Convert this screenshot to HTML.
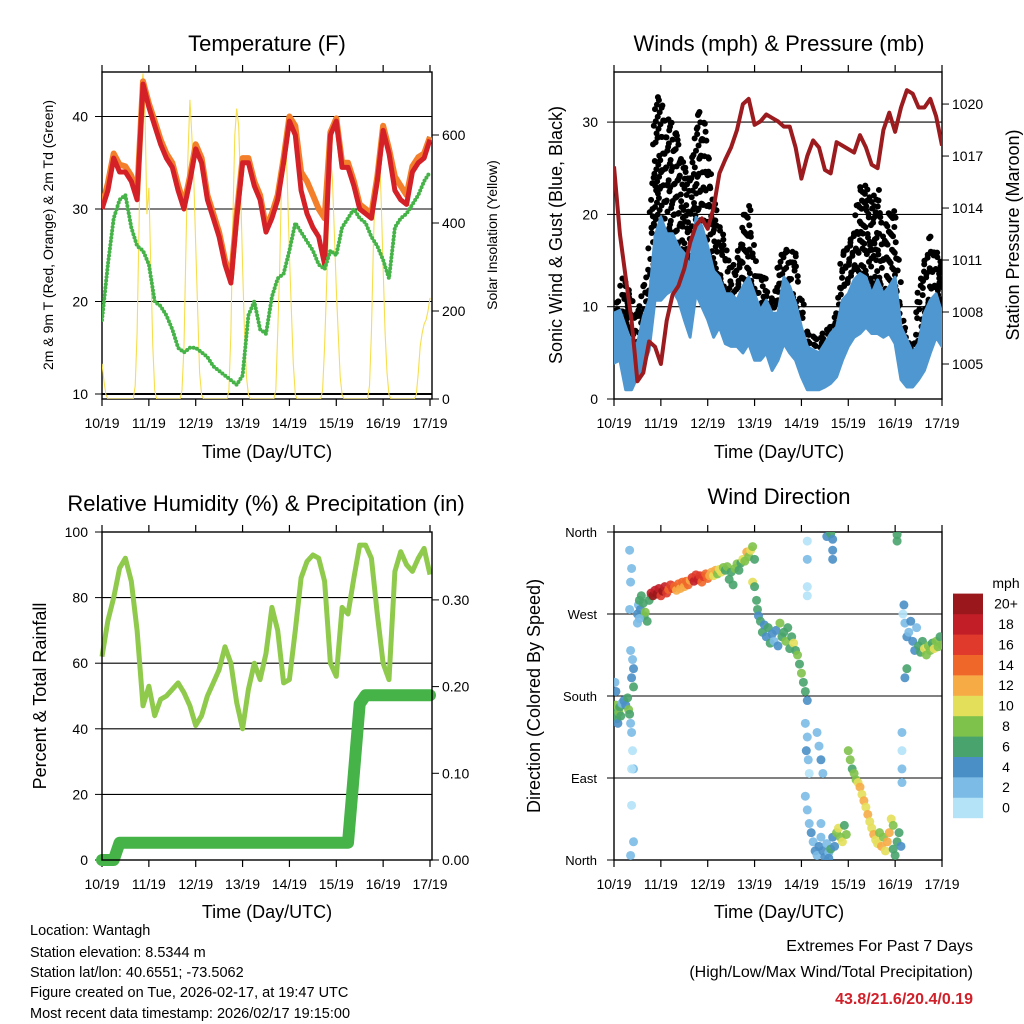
<!DOCTYPE html>
<html><head><meta charset="utf-8"><title>Weather station</title>
<style>
html,body{margin:0;padding:0;background:#fff;}
svg{display:block;font-family:"Liberation Sans",Arial,sans-serif;}
</style></head>
<body>
<svg id="chart" width="1024" height="1024" viewBox="0 0 1024 1024" xmlns="http://www.w3.org/2000/svg">
<defs>
<clipPath id="c1"><rect x="102" y="72" width="330" height="327"/></clipPath>
<clipPath id="c2"><rect x="614" y="72" width="328" height="327"/></clipPath>
<clipPath id="c3"><rect x="102" y="532" width="330" height="328"/></clipPath>
<clipPath id="c4"><rect x="614" y="532" width="328" height="328"/></clipPath>
</defs>
<g font-size="22" text-anchor="middle" fill="#000">
<text x="267" y="51">Temperature (F)</text>
<text x="779" y="51">Winds (mph) &amp; Pressure (mb)</text>
<text x="266" y="511">Relative Humidity (%) &amp; Precipitation (in)</text>
<text x="779" y="504">Wind Direction</text>
</g>
<g font-size="18" text-anchor="middle">
<text x="267" y="458">Time (Day/UTC)</text>
<text x="779" y="458">Time (Day/UTC)</text>
<text x="267" y="918">Time (Day/UTC)</text>
<text x="779" y="918">Time (Day/UTC)</text>
<text transform="translate(562,235) rotate(-90)">Sonic Wind &amp; Gust (Blue, Black)</text>
<text transform="translate(1019,235) rotate(-90)">Station Pressure (Maroon)</text>
<text transform="translate(46,696) rotate(-90)">Percent &amp; Total Rainfall</text>
<text transform="translate(540,696) rotate(-90)">Direction (Colored By Speed)</text>
</g>
<g font-size="14" text-anchor="middle">
<text transform="translate(53,235) rotate(-90)">2m &amp; 9m T (Red, Orange) &amp; 2m Td (Green)</text>
<text transform="translate(497,235) rotate(-90)">Solar Insolation (Yellow)</text>
</g>
<g font-size="14.5">
<text x="30" y="935">Location: Wantagh</text>
<text x="30" y="957">Station elevation: 8.5344 m</text>
<text x="30" y="977">Station lat/lon: 40.6551; -73.5062</text>
<text x="30" y="997">Figure created on Tue, 2026-02-17, at 19:47 UTC</text>
<text x="30" y="1018">Most recent data timestamp: 2026/02/17 19:15:00</text>
</g>
<g font-size="16" text-anchor="end">
<text x="973" y="951">Extremes For Past 7 Days</text>
<text x="973" y="977">(High/Low/Max Wind/Total Precipitation)</text>
<text x="973" y="1004" fill="#d0202a" font-weight="bold">43.8/21.6/20.4/0.19</text>
</g>
<g id="layer"></g>
</svg>
<script>
// ---- data (3-hourly from 10/19 19 UTC, hours 0..168) ----
const hours3 = [0,3,6,9,12,15,18,21,24,27,30,33,36,39,42,45,48,51,54,57,60,63,66,69,72,75,78,81,84,87,90,93,96,99,102,105,108,111,114,117,120,123,126,129,132,135,138,141,144,147,150,153,156,159,162,165,168];
const temp2m = [30,32,35.5,34,34,33,31,43.5,41,39,37,35.5,34.5,32,30,33,36.5,35,31,29,27,24,22,29,35,35,32.5,31,27.5,29,31,35,39.5,38,32,29.5,28,27,24,38,39.5,34.5,34.5,32.5,30,29.5,29,33,38.5,36,32,31,30.5,34,35,35.5,37.5];
const temp9m = [30.3,32.8,36,34.8,34.6,33.6,31.6,43.8,41.4,39.5,37.5,36,35,32.6,30.5,33.5,37,35.5,31.5,29.5,27.5,24.5,22.5,29.5,35.5,35.5,33,31.5,28,29.5,31.5,35.5,40,39,34,33,31.5,30,29,38.3,39.8,35,35,33,30.5,30,29.5,33.5,39,36.5,33.5,32.5,31.5,34.6,35.6,36,37.8];
const dewpt = [18,24,29,31,31.5,28,26,25.5,24,20,19.5,18.5,17,15,14.5,15,15,14.5,14,13,12.5,12,11.5,11,12,18.5,20,17,16.5,20.5,22.5,23,25.5,28.5,27.5,26.5,25.5,24,23.5,25.5,25,28,29,30,29,28.5,27,26,24.5,22.5,28,29,29.5,30.5,31.5,33,34];
const solar = [80,40,10,0, 0,0,0,0,0,0,0,0,0,0,0,0,0, 30,150,400,700,740,650,420,480,300,120,20, 0,0,0,0,0,0,0,0,0,0,0,0,0, 20,120,350,550,680,600,500,350,200,60,10, 0,0,0,0,0,0,0,0,0,0,0,0,0, 20,150,400,600,660,620,480,300,150,50,10, 0,0,0,0,0,0,0,0,0,0,0,0,0, 20,150,300,500,550,620,480,330,200,80,10, 0,0,0,0,0,0,0,0,0,0,0,0,0, 20,120,250,400,550,500,380,250,150,50,10, 0,0,0,0,0,0,0,0,0,0,0,0,0, 30,150,350,500,550,580,450,300,150,60,10, 0,0,0,0,0,0,0,0,0,0,0,0,0, 10,60,120,150,170,180,200,230];
const windLo = [3.9,4.2,1.0,1.0,2.4,3.5,5.3,10.7,10.7,11.4,11.8,10.7,8.6,6.7,11.4,10,8.6,6.7,7.8,6,5.7,5.7,5,6,4.2,4.2,5,3.1,4.2,6,5,4.2,2.4,1,1,1,1.3,1.7,2.4,4.2,5.7,6.7,7.1,7.8,7.1,7.1,6.7,7.1,6,2.1,1.3,1.3,2.1,3.1,5,6.7,5.7];
const windHi = [9.3,9.6,7.8,6.0,6.0,8.9,10.7,17.6,19.7,17.9,17.9,16.5,15.8,14.3,19.7,18.7,16.5,13.9,13.2,11.4,11.4,10.7,12.2,13.2,11.4,9.6,10.7,9.3,9.3,13.2,12.2,10.4,7.8,5.7,5.3,5,6,7.1,7.8,10.7,11.4,12.9,13.6,13.2,11.4,12.9,11.4,12.2,13.2,7.8,6.4,5,6,9.3,10.7,11.4,9.3];
const gustHi = [9.5,11.8,14.6,10.7,10.4,12.6,15.2,32,33,31,30,28,26,23.5,30.6,31.3,27.6,21.9,19,16.4,14.2,15.3,20.3,21,15.6,13.4,13,10.5,14.2,17,16.4,15.6,11,7.2,7.1,6.5,7.5,7.6,9.8,16.4,17,19,22.7,23.8,21.3,23,17.7,20.6,20.3,10.5,6.5,5.4,11.8,14.8,17.7,17,14.2];
const pressure = [1016.4,1012.5,1010,1007.5,1004,1004.5,1006.3,1006,1005,1007.5,1009,1009.5,1010.5,1012,1013,1013.4,1012.8,1014,1016,1016.8,1017.5,1018.5,1020,1020.3,1018.8,1019,1019.4,1019.2,1019,1018.7,1018.7,1017.5,1015.7,1017,1017.9,1017.5,1016.2,1016,1017.8,1017.6,1017.4,1017.2,1018.2,1017.5,1016.5,1016.3,1018.5,1019.5,1018.4,1019.8,1020.8,1020.6,1019.8,1019.8,1020.3,1019.3,1017.6];
const relHum = [62,73,80,89,92,85,70,47,53,44,49,50,52,54,51,47,41,44,50,54,58,65,60,48,40,52,60,55,63,77,70,54,55,70,86,91,93,92,85,60,56,77,75,86,96,96,92,75,60,55,88,94,90,88,92,95,87];
const precip = [0,0,0,0.02,0.02,0.02,0.02,0.02,0.02,0.02,0.02,0.02,0.02,0.02,0.02,0.02,0.02,0.02,0.02,0.02,0.02,0.02,0.02,0.02,0.02,0.02,0.02,0.02,0.02,0.02,0.02,0.02,0.02,0.02,0.02,0.02,0.02,0.02,0.02,0.02,0.02,0.02,0.02,0.1,0.18,0.19,0.19,0.19,0.19,0.19,0.19,0.19,0.19,0.19,0.19,0.19,0.19];
// wind direction observations
const dirHours = [0,0.5,1,1.5,2,2.5,3,3.5,4,1,0.5,5,6,7,7.5,8,8.5,9,9.5,10,9,9.5,10,8.5,8,8.5,9,8,9,9,10,8.5,10,
12,12.5,13,13.5,14,15,15.5,16,17,18,19,13,12,
19,20,21,22,23,24,25,26,27,28,29,30,
31,32,33,34,35,36,37,38,39,
40,41,42,43,44,45,46,47,48,49,50,
51,52,53,54,55,56,
57,58,59,60,61,62,63,64,65,66,67,68,69,70,71,72,71,72,
73,73.5,74,
75,76,77,78,79,80,81,82,83,84,85,86,87,88,89,90,91,92,93,94,95,
96,97,98,99,
98,99,98.5,99.5,100,98,99,100,101,102,103,104,105,106,107,108,109,110,104,105,106,107,106,99,99,99,99,110,111,112,113,
109,111,112,112,112,
114,115,116,117,118,119,
120,121,122,123,124,125,126,127,128,129,130,131,132,133,134,135,136,137,138,139,140,141,142,143,
143,144,145,146,147,145,145,
147.5,147.5,147.5,147.5,
148,148.5,149,150,151,152,153,154,155,156,157,158,159,160,161,162,163,164,165,166,167,168,150,149];
const dirDeg = [165,160,170,155,150,162,168,158,172,185,195,175,170,178,165,160,150,140,120,100,200,220,210,230,275,305,320,340,100,60,20,5,190,
270,280,285,275,290,282,268,272,262,285,290,265,260,
293,290,296,292,298,290,295,300,293,297,302,298,
300,296,303,298,305,300,306,302,307,
310,306,313,308,312,305,311,314,309,312,316,
312,318,314,319,316,321,
318,322,308,316,302,320,325,318,326,330,328,338,333,340,344,330,305,300,
285,275,268,
262,250,258,245,255,238,248,240,252,235,260,245,250,240,255,232,245,238,230,225,215,
205,195,185,175,
150,135,120,110,95,70,55,40,30,20,10,5,15,25,10,3,18,8,140,125,110,95,40,350,330,290,300,2,12,25,15,
355,358,352,340,330,
30,35,25,20,38,28,
120,110,100,95,88,85,80,72,65,58,50,42,35,28,22,18,30,15,25,10,20,30,45,38,
12,5,20,30,15,357,350,
140,120,100,85,
270,280,260,245,250,262,240,230,255,235,228,240,232,225,235,230,238,232,240,234,245,236,210,200];
const dirSpd = [6,7,8,6,5,8,7,6,3,4,3,4,5,7,8,6,2,2,1,2,4,2,4,2,2,2,2,2,1,1,2,2,6,
4,3,6,4,6,6,6,8,7,7,6,2,2,
18,20,19,20,18,17,20,19,16,15,17,16,
14,12,15,13,14,12,15,14,13,
17,18,16,19,17,15,16,14,15,12,13,
10,12,9,11,10,8,
7,8,6,7,6,8,9,7,6,10,8,12,9,10,8,7,10,6,
7,6,5,
6,7,5,4,6,7,4,3,5,4,8,7,6,8,7,7,6,10,7,8,7,
8,7,6,5,
3,2,4,2,1,2,3,2,4,3,4,2,4,3,4,4,2,3,2,3,4,2,2,1,2,0,1,4,6,4,5,
4,6,4,4,4,
8,10,9,10,6,8,
8,8,7,8,9,10,12,11,13,10,12,11,10,12,11,10,9,12,8,11,13,12,10,8,
7,6,7,6,5,6,6,
2,1,2,2,
1,4,3,4,3,4,4,4,3,6,6,7,10,8,9,8,7,10,8,9,6,8,6,4];
const speedColors = ["#b4e2f7","#7bbbe6","#4a8fc6","#48a46c","#7fc24b","#e4df5a","#f6ab45","#f0672a","#df3a2c","#c21e28","#9a181c"];
const speedLabels = ["0","2","4","6","8","10","12","14","16","18","20+"];
const dayLabels = ["10/19","11/19","12/19","13/19","14/19","15/19","16/19","17/19"];
const tempTicks = [10,20,30,40];
const solarTicks = [0,200,400,600];
const windTicks = [0,10,20,30];
const presTicks = [1005,1008,1011,1014,1017,1020];
const rhTicks = [0,20,40,60,80,100];
const precTicks = [0.00,0.10,0.20,0.30];
const dirTicks = [0,90,180,270,360];
const dirNames = ["North","East","South","West","North"];

// ---- scales ----
const X1 = h => 102 + h*(430-102)/168;
const X2 = h => 614 + h*(942-614)/168;
const yT = t => 394 - (t-10)*9.25;
const yS = s => 399 - s*0.44;
const yW = v => 399 - v*9.23;
const yP = p => 364 - (p-1005)*17.33;
const yR = r => 860 - r*3.28;
const yPr = p => 860 - p*867;
const yD = d => 860 - d*328/360;

const NS = "http://www.w3.org/2000/svg";
const layer = document.getElementById("layer");
function mk(tag, attrs, parent){ const e=document.createElementNS(NS,tag); for(const k in attrs) e.setAttribute(k,attrs[k]); (parent||layer).appendChild(e); return e; }
function pts(xs, ys){ return xs.map((x,i)=>x.toFixed(1)+","+ys[i].toFixed(1)).join(" "); }
function col(v){ let i=Math.floor(v/2); if(i<0)i=0; if(i>10)i=10; return speedColors[i]; }
function interp(arr, h){ const i=Math.min(Math.floor(h/3),arr.length-2); const f=(h-hours3[i])/3; return arr[i]+(arr[i+1]-arr[i])*f; }

function panel(x0,x1,y0,y1,X,name){
  const g=mk("g",{});
  
  
  dayLabels.forEach((lab,i)=>{
    const x=X(i*24);
    mk("line",{x1:x,x2:x,y1:y1,y2:y1+7,stroke:"#000","stroke-width":1.2},g);
    mk("line",{x1:x,x2:x,y1:y0,y2:y0-7,stroke:"#000","stroke-width":1.2},g);
    const t=mk("text",{x:x,y:y1+29,"font-size":14,"text-anchor":"middle"},g);
    
    
    t.textContent=lab;
  });
  return g;
}
function hgrid(g,x0,x1,y,w){ mk("line",{x1:x0,x2:x1,y1:y,y2:y,stroke:"#000","stroke-width":w||1.1},g); }
function frame(g,x0,x1,y0,y1){ mk("rect",{x:x0,y:y0,width:x1-x0,height:y1-y0,fill:"none",stroke:"#000","stroke-width":1.4},g); }
function ylab(g,x,y,txt,anchor,size){ const t=mk("text",{x:x,y:y+5,"font-size":size||14,"text-anchor":anchor},g);   t.textContent=txt; }

// Panel 1 temperature
const g1=panel(102,432,72,399,X1,"temperature");
tempTicks.forEach(t=>{ hgrid(g1,102,432,yT(t), t===10?2:1.1); mk("line",{x1:95,x2:102,y1:yT(t),y2:yT(t),stroke:"#000"},g1); ylab(g1,88,yT(t),String(t),"end"); });
solarTicks.forEach(s=>{ mk("line",{x1:432,x2:439,y1:yS(s),y2:yS(s),stroke:"#000"},g1); ylab(g1,442,yS(s),String(s),"start"); });
const c1=mk("g",{"clip-path":"url(#c1)"});
const hrs=solar.map((_,i)=>i);
const sl=mk("polyline",{points:pts(hrs.map(X1),solar.map(yS)),fill:"none",stroke:"#f6de4c","stroke-width":1.1},c1);


const ol=mk("polyline",{points:pts(hours3.map(X1),temp9m.map(yT)),fill:"none",stroke:"#f37f2b","stroke-width":6,"stroke-linejoin":"round"},c1);


const rl=mk("polyline",{points:pts(hours3.map(X1),temp2m.map(yT)),fill:"none",stroke:"#d42027","stroke-width":5,"stroke-linejoin":"round"},c1);


const dl=mk("polyline",{points:pts(hours3.map(X1),dewpt.map(yT)),fill:"none",stroke:"#45b348","stroke-width":4,"stroke-dasharray":"0 3.6","stroke-linecap":"round"},c1);


frame(g1,102,432,72,399);

// Panel 2 winds
const g2=panel(614,942,72,399,X2,"winds");
windTicks.forEach(v=>{ if(v>0) hgrid(g2,614,942,yW(v)); mk("line",{x1:607,x2:614,y1:yW(v),y2:yW(v),stroke:"#000"},g2); ylab(g2,598,yW(v),String(v),"end"); });
presTicks.forEach(p=>{ mk("line",{x1:942,x2:949,y1:yP(p),y2:yP(p),stroke:"#000"},g2); ylab(g2,952,yP(p),String(p),"start"); });
const c2=mk("g",{"clip-path":"url(#c2)"});
// gust dots
let n=0;
for(let h=0; h<=168; h+=0.7){
  const hi=interp(windHi,h), g=interp(gustHi,h);
  const lo=hi-2;
  for(let v=lo; v<=g; v+=2.2){
    n++;
    const off=((n*7)%5-2)*0.3;
    const d=mk("circle",{cx:X2(h+off),cy:yW(Math.min(v+((n*3)%4)*0.4,g)),r:3,fill:"#000"},c2);
    
    
  }
}
const band=hours3.map(X2).map((x,i)=>x.toFixed(1)+","+yW(windHi[i]).toFixed(1)).concat(hours3.map(X2).map((x,i)=>x.toFixed(1)+","+yW(windLo[i]).toFixed(1)).reverse()).join(" ");
const wb=mk("polygon",{points:band,fill:"#4f97d0",stroke:"#4f97d0","stroke-width":3,"stroke-linejoin":"round"},c2);


const pl=mk("polyline",{points:pts(hours3.map(X2),pressure.map(yP)),fill:"none",stroke:"#9b1b1e","stroke-width":4,"stroke-linejoin":"round"},c2);


frame(g2,614,942,72,399);

// Panel 3 humidity / precip
const g3=panel(102,432,532,860,X1,"humidity");
rhTicks.forEach(r=>{ if(r>0&&r<100) hgrid(g3,102,432,yR(r)); mk("line",{x1:95,x2:102,y1:yR(r),y2:yR(r),stroke:"#000"},g3); ylab(g3,88,yR(r),String(r),"end"); });
precTicks.forEach(p=>{ mk("line",{x1:432,x2:439,y1:yPr(p),y2:yPr(p),stroke:"#000"},g3); ylab(g3,442,yPr(p),p.toFixed(2),"start"); });
const hl=mk("polyline",{points:pts(hours3.map(X1),relHum.map(yR)),fill:"none",stroke:"#8fca4c","stroke-width":5,"stroke-linejoin":"round"},g3);


const prl=mk("polyline",{points:pts(hours3.map(X1),precip.map(yPr)),fill:"none",stroke:"#46b348","stroke-width":12,"stroke-linejoin":"round","stroke-linecap":"round"},g3);


frame(g3,102,432,532,860);

// Panel 4 direction
const g4=panel(614,942,532,860,X2,"direction");
dirTicks.forEach((d,i)=>{ if(d>0&&d<360) hgrid(g4,614,942,yD(d)); mk("line",{x1:607,x2:614,y1:yD(d),y2:yD(d),stroke:"#000"},g4); ylab(g4,597,yD(d),dirNames[i],"end",13); });
const c4=mk("g",{"clip-path":"url(#c4)"});
dirHours.forEach((h,i)=>{
  const c=mk("circle",{cx:X2(h),cy:yD(dirDeg[i]),r:4.5,fill:col(dirSpd[i]),"fill-opacity":0.9},c4);
  
  
});
frame(g4,614,942,532,860);

// colorbar
const cb=mk("g",{});


const mph=mk("text",{x:1006,y:588,"font-size":14,"text-anchor":"middle"},cb);


mph.textContent="mph";
speedColors.forEach((c,i)=>{
  const y=818-(i+1)*20.4;
  const r=mk("rect",{x:953,y:y,width:30,height:20.6,fill:c},cb);
  
  
  const t=mk("text",{x:1006,y:y+15,"font-size":14,"text-anchor":"middle"},cb);
  
  
  t.textContent=speedLabels[i];
});
</script>
</body></html>
